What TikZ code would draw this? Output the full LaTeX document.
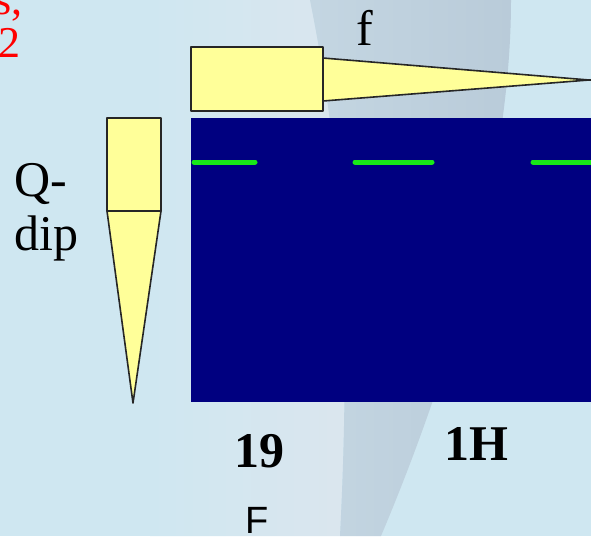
\documentclass[tikz,border=0pt]{standalone}
\usepackage{fontspec}
\setmainfont{Liberation Serif}
\newfontfamily\labelsans{Liberation Sans}
\usepackage{tikz}
\usetikzlibrary{calc}

\definecolor{slidebg}{HTML}{CFE7F1}
\definecolor{swooshgray}{HTML}{C4D6E2}
\definecolor{swooshdark}{HTML}{B9CBD9}
\definecolor{swooshlight}{HTML}{DBE6EE}
\definecolor{probefill}{HTML}{FFFF99}
\definecolor{spectrumblue}{HTML}{000080}
\definecolor{peakgreen}{HTML}{18E818}

\tikzset{
  probe/.style={fill=probefill, draw=black!85, line width=1.6pt, line join=round},
  peak/.style={peakgreen, line width=5pt, line cap=round},
  biglabel/.style={inner sep=0pt, font=\fontsize{50}{60}\selectfont}
}

\begin{document}
\begin{tikzpicture}[x=1pt, y=-1pt]
        % Slide background
        \useasboundingbox (0,0) rectangle (591,536);
        \fill[slidebg] (0,0) rectangle (591,536);
        \shade[left color=slidebg, right color=swooshlight] (150,0) -- (310,0) .. controls (340,150) and (352,300) .. (340,536) -- (150,536) -- cycle;
        \shade[left color=swooshgray, right color=swooshdark] (310,0) .. controls (340,150) and (352,300) .. (340,536) -- (381,536) .. controls (430,420) and (511,200) .. (511,0) -- cycle;
        
        % Red text cut at the edge
        \node[biglabel, red, anchor=base east, font=\fontsize{44}{52}\selectfont] (half1) at (23,14) {s,};
        \node[biglabel, red, anchor=base east, font=\fontsize{44}{52}\selectfont] (half2) at (21,57) {/2};
        
        % Spectrum window
        \fill[spectrumblue] (191,118) rectangle (595,402);
        \draw[peak] (194,162) -- (255,162);
        \draw[peak] (355,162) -- (432,162);
        \draw[peak] (533,162) -- (598,162);
        
        % Horizontal probe
        \draw[probe] (323,58) -- (589,80) -- (323,101) -- cycle;
        \draw[black!85, line width=1.6pt] (585,80) -- (595,80);
        \draw[probe] (191,47) rectangle (323,111);
        \node[biglabel, anchor=base] (flabel) at (365,45) {f};
        
        % Vertical probe
        \draw[probe] (107,211) -- (133,403) -- (161,211) -- cycle;
        \draw[probe] (107,118) rectangle (161,211);
        \node[biglabel, anchor=base west] (qlabel) at (14,196) {Q-};
        \node[biglabel, anchor=base west] (diplabel) at (14,250) {dip};
        
        % Nucleus labels
        \node[biglabel, anchor=base, font=\fontsize{50}{60}\selectfont\bfseries] (fnum) at (259,467) {19};
        \node[biglabel, anchor=base, font=\labelsans\fontsize{38}{46}\selectfont] (fsym) at (257,533) {F};
        \node[biglabel, anchor=base, font=\fontsize{50}{60}\selectfont\bfseries] (hlabel) at (476,460) {1H};
    \end{tikzpicture}
\end{document}
